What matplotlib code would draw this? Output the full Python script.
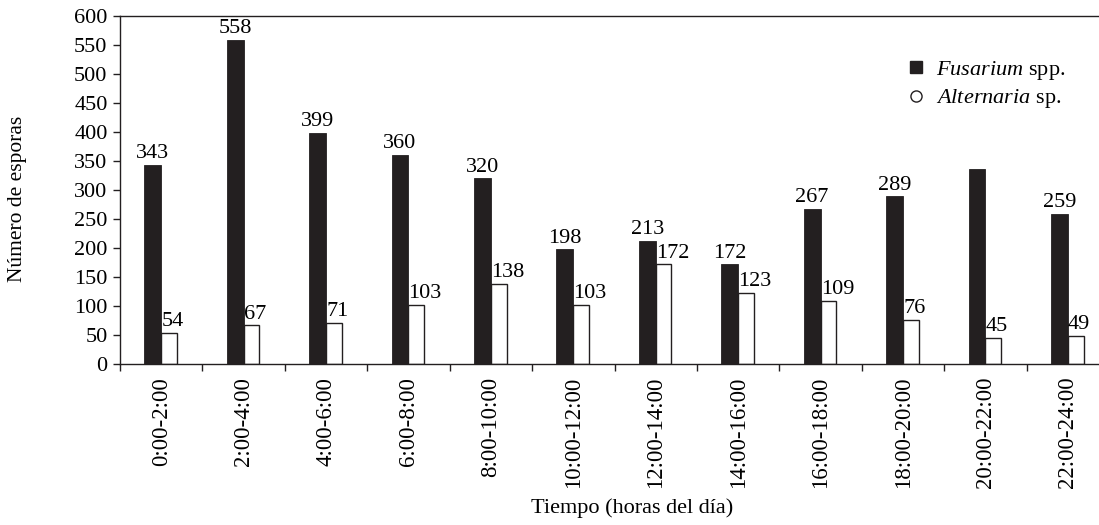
import numpy as np
import matplotlib
matplotlib.use("Agg")
import matplotlib.pyplot as plt
from matplotlib.lines import Line2D

plt.rcParams["font.family"] = ["Liberation Serif", "DejaVu Serif"]
plt.rcParams["mathtext.fontset"] = "custom"
plt.rcParams["mathtext.rm"] = "Liberation Serif"
plt.rcParams["mathtext.it"] = "Liberation Serif:italic"

periods = ["0:00-2:00", "2:00-4:00", "4:00-6:00", "6:00-8:00", "8:00-10:00",
           "10:00-12:00", "12:00-14:00", "14:00-16:00", "16:00-18:00",
           "18:00-20:00", "20:00-22:00", "22:00-24:00"]
fusarium = [343, 558, 399, 360, 320, 198, 213, 172, 267, 289, 337, 259]
alternaria = [54, 67, 71, 103, 138, 103, 172, 123, 109, 76, 45, 49]
# the 20:00-22:00 Fusarium bar carries no label in the original
fusarium_labels = ["343", "558", "399", "360", "320", "198", "213", "172",
                   "267", "289", "", "259"]

x = np.arange(len(periods))
w = 0.205
dark = "#231f20"

fig = plt.figure(figsize=(10.99, 5.25), dpi=100)
# axes runs slightly past the right edge of the figure, as in the original
ax = fig.add_axes([0.1092, 0.306, 0.900, 0.664])

ax.bar(x - w, fusarium, width=w, align="edge", color=dark, edgecolor=dark, linewidth=0.6)
ax.bar(x, alternaria, width=w - 0.015, align="edge", color="white", edgecolor=dark, linewidth=1.0)

fs = 16
for xi, v, lab in zip(x, fusarium, fusarium_labels):
    if lab:
        ax.text(xi - w / 2, v + 3, lab, ha="center", va="bottom", fontsize=fs)
for xi, v in zip(x, alternaria):
    ax.text(xi, v + 3, str(v), ha="left", va="bottom", fontsize=fs)

ax.set_xlim(-0.5, len(periods) - 0.5)
ax.set_ylim(0, 600)
ax.set_yticks(np.arange(0, 601, 50))
ax.set_xticks(x)
ax.set_xticklabels(periods, rotation=90, fontsize=16.5)
ax.set_xticks(np.arange(-0.5, len(periods), 1), minor=True)
ax.tick_params(axis="x", which="major", length=0, pad=9)
ax.tick_params(axis="x", which="minor", length=5, direction="out", width=1, color=dark)
ax.tick_params(axis="y", length=5, direction="out", width=1, labelsize=fs, pad=4, color=dark)

ax.spines["right"].set_visible(False)
for s in ["left", "bottom", "top"]:
    ax.spines[s].set_linewidth(1.0)
    ax.spines[s].set_color(dark)

ax.set_ylabel("Número de esporas", fontsize=15.5)
ax.yaxis.set_label_coords(-0.094, 0.474)
ax.set_xlabel("Tiempo (horas del día)", fontsize=fs)
ax.xaxis.set_label_coords(0.518, -0.384)

handles = [
    Line2D([], [], marker="s", linestyle="none", color=dark, markersize=8),
    Line2D([], [], marker="o", linestyle="none", markerfacecolor="white",
           markeredgecolor=dark, markersize=8),
]
labels = [r"$\it{Fusarium}$ spp.", r"$\it{Alternaria}$ sp."]
ax.legend(handles, labels, loc="upper right", bbox_to_anchor=(0.976, 0.934),
          frameon=False, fontsize=fs, handletextpad=0.3, labelspacing=0.25,
          handlelength=1.2)

fig.savefig("out.png", dpi=100)
